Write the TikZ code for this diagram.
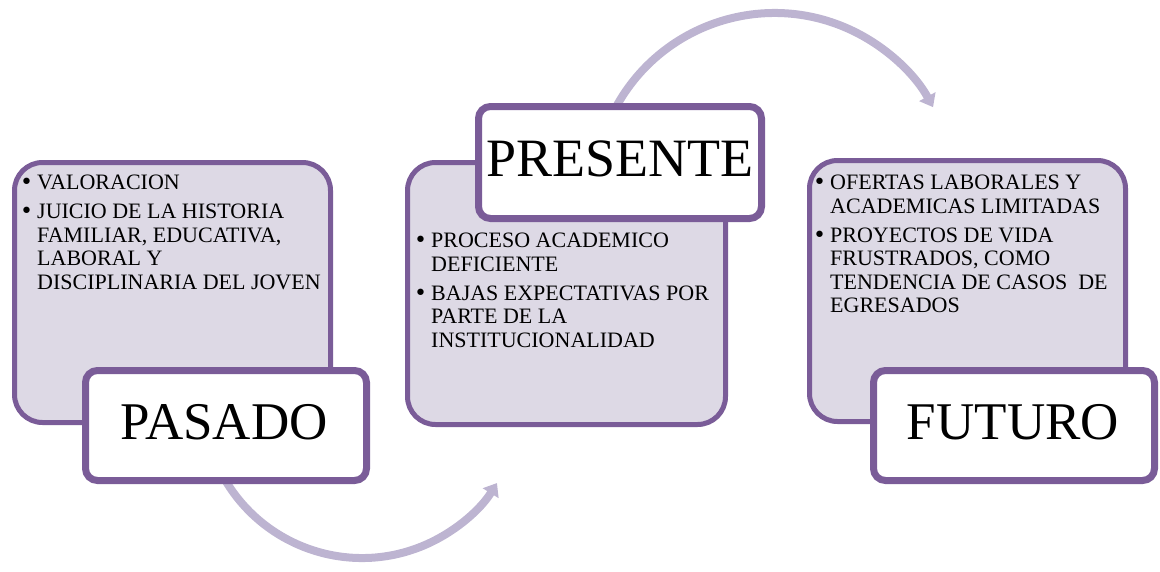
\documentclass[tikz,border=0pt]{standalone}
\usepackage{fontspec}
\setmainfont{Liberation Serif}
\newfontfamily\dvfont{DejaVu Sans}
\usetikzlibrary{arrows.meta,shadows}
\definecolor{boxfill}{HTML}{DDD9E5}
\definecolor{purp}{HTML}{7A5C98}
\definecolor{arrowc}{HTML}{BDB4D1}
\newcommand\bul{\makebox[11pt][l]{\hspace{-6pt}\dvfont\textbullet}}
\newcommand\ind{\hspace*{11pt}}
\begin{document}
\begin{tikzpicture}[x=1pt,y=-1pt,
  bigbox/.style={draw=purp, line width=5pt, fill=boxfill, rounded corners=28pt,
    drop shadow={shadow xshift=2pt, shadow yshift=-2pt, opacity=0.15}},
  lblbox/.style={draw=purp, line width=7pt, fill=white, rounded corners=12pt,
    inner sep=0pt,
    drop shadow={shadow xshift=2pt, shadow yshift=-3pt, opacity=0.25}},
  lbltxt/.style={inner sep=0pt, font=\fontsize{53}{60}\selectfont},
  bodytxt/.style={anchor=north west, inner sep=0pt, align=left,
    font=\fontsize{22}{23.5}\selectfont},
  flow/.style={draw=arrowc, line width=8pt, -{Triangle[width=18pt,length=12pt]}}]
\useasboundingbox (0,0) rectangle (1160,571);

% cycle arrows
\coordinate (c1) at ({362+159*cos(155)},{399+159*sin(155)});
\draw[flow] (c1) arc[start angle=155, end angle=31.9, radius=159];
\coordinate (c2) at ({774.5+180.6*cos(-153)},{193.6+180.6*sin(-153)});
\draw[flow] (c2) arc[start angle=-153, end angle=-28.6, radius=180.6];

% content boxes
\node[bigbox, minimum width=316pt, minimum height=260pt] (b1) at (172.5,292.5) {};
\node[bigbox, minimum width=318pt, minimum height=262pt] (b2) at (566.5,293.5) {};
\node[bigbox, minimum width=316pt, minimum height=261pt] (b3) at (967.5,291) {};

\node[bodytxt] (t1) at (26,175) {\bul VALORACION\\[5.5pt]
\bul JUICIO DE LA HISTORIA\\
\ind FAMILIAR, EDUCATIVA,\\
\ind LABORAL Y\\
\ind DISCIPLINARIA DEL JOVEN};

\node[bodytxt] (t2) at (420,233) {\bul PROCESO ACADEMICO\\
\ind DEFICIENTE\\[5.5pt]
\bul BAJAS EXPECTATIVAS POR\\
\ind PARTE DE LA\\
\ind INSTITUCIONALIDAD};

\node[bodytxt] (t3) at (819,175) {\bul OFERTAS LABORALES Y\\
\ind ACADEMICAS LIMITADAS\\[5.5pt]
\bul PROYECTOS DE VIDA\\
\ind FRUSTRADOS, COMO\\
\ind TENDENCIA DE CASOS\ \ DE\\
\ind EGRESADOS};

% title boxes
\node[lblbox, minimum width=281pt, minimum height=110pt] (l1) at (226,425.5) {};
\node[lbltxt] (n1) at (224,422) {PASADO};
\node[lblbox, minimum width=283pt, minimum height=112pt] (l2) at (620,162.5) {};
\node[lbltxt, font=\fontsize{54}{60}\selectfont] (n2) at (620,159) {PRESENTE};
\node[lblbox, minimum width=281pt, minimum height=110pt] (l3) at (1014,425.5) {};
\node[lbltxt] (n3) at (1013,422) {FUTURO};
\end{tikzpicture}
\end{document}
